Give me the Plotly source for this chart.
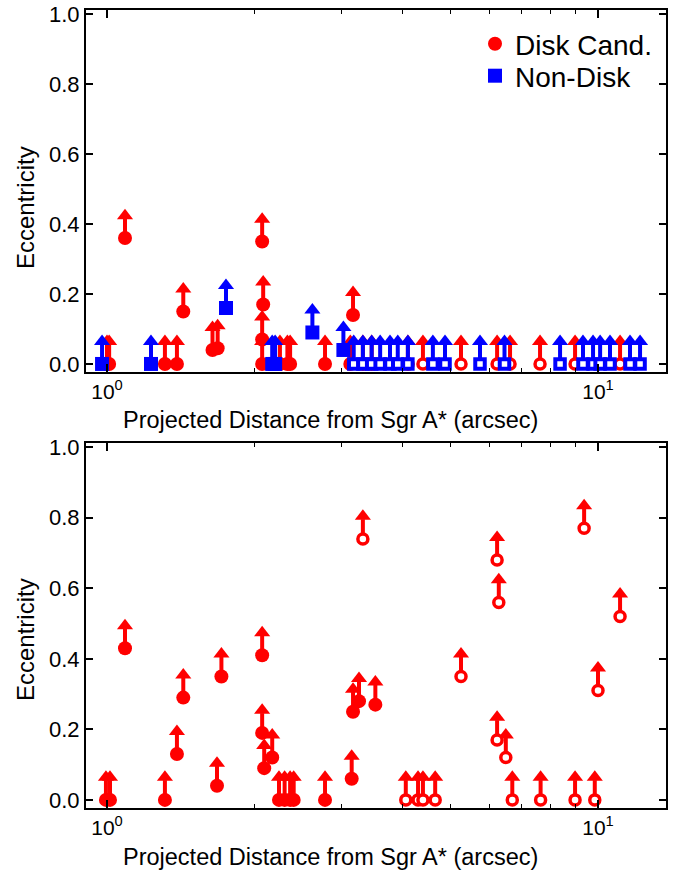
import plotly.graph_objects as go

# ---------------- data ----------------
# Top panel
top_disk_filled_x = [1.00, 1.01, 1.088, 1.312, 1.388, 1.43, 1.64, 1.68, 2.07, 2.07, 2.08, 2.07,
                     2.25, 2.33, 2.36, 2.78, 3.13, 3.17, 3.32, 3.46, 4.10]
top_disk_filled_e = [0, 0, 0.36, 0, 0, 0.15, 0.04, 0.045, 0.35, 0.07, 0.17, 0,
                     0, 0, 0, 0, 0, 0.14, 0, 0, 0]
top_disk_open_x = [4.40, 5.26, 6.23, 6.62, 7.62, 8.98, 11.09]
top_disk_open_e = [0, 0, 0, 0, 0, 0, 0]
top_nondisk_filled_x = [0.977, 1.229, 1.747, 2.17, 2.20, 2.62, 3.03]
top_nondisk_filled_e = [0, 0, 0.16, 0, 0, 0.09, 0.04]
top_nondisk_open_x = [3.18, 3.32, 3.46, 3.60, 3.77, 3.91, 4.10, 4.61, 4.88, 5.75, 6.45,
                      8.37, 9.32, 9.77, 10.1, 10.58, 11.62, 12.18]
top_nondisk_open_e = [0] * 18

# Bottom panel
bot_disk_filled_x = [0.995, 1.014, 1.088, 1.312, 1.388, 1.43, 1.675, 1.71, 2.07, 2.07, 2.09, 2.17,
                     2.24, 2.30, 2.36, 2.40, 2.78, 3.15, 3.17, 3.26, 3.52]
bot_disk_filled_e = [0, 0, 0.43, 0, 0.13, 0.29, 0.04, 0.35, 0.41, 0.19, 0.09, 0.12,
                     0, 0, 0, 0, 0, 0.06, 0.25, 0.28, 0.27]
bot_disk_open_x = [3.32, 4.06, 4.30, 4.40, 4.66, 5.26, 6.23, 6.28, 6.23, 6.49, 6.69, 7.64,
                   8.98, 9.37, 9.85, 10.0, 11.09]
bot_disk_open_e = [0.74, 0, 0, 0, 0, 0.35, 0.68, 0.56, 0.17, 0.12, 0, 0,
                   0, 0.77, 0, 0.31, 0.52]

y_ticks = [0.0, 0.2, 0.4, 0.6, 0.8, 1.0]
y_ticktext = ["0.0", "0.2", "0.4", "0.6", "0.8", "1.0"]
x_ticks = [1, 10]
x_ticktext = ["10<sup>0</sup>", "10<sup>1</sup>"]
x_minor = [2, 3, 4, 5, 6, 7, 8, 9]

x_title = "Projected Distance from Sgr A* (arcsec)"
y_title = "Eccentricity"

RED = "rgb(255,0,0)"
BLUE = "rgb(0,0,255)"
STEM = 0.056
HEAD = 0.064

fig = go.Figure()


def add_group(xs, es, color, symbol, filled, xa, ya, name=None, legend=None):
    sx, sy = [], []
    for x, e in zip(xs, es):
        sx += [x, x, None]
        sy += [e, e + STEM, None]
    fig.add_trace(go.Scatter(x=sx, y=sy, mode="lines", line=dict(color=color, width=4),
                             xaxis=xa, yaxis=ya, showlegend=False, hoverinfo="skip"))
    fig.add_trace(go.Scatter(x=xs, y=[e + HEAD for e in es], mode="markers",
                             marker=dict(symbol="triangle-up", size=14, color=color,
                                         line=dict(width=0)),
                             xaxis=xa, yaxis=ya, showlegend=False, hoverinfo="skip"))
    if filled:
        mk = dict(symbol=symbol, size=14, color=color, line=dict(width=0))
    else:
        if symbol == "circle":
            mk = dict(symbol=symbol, size=10, color="white", line=dict(color=color, width=3.5))
        else:
            mk = dict(symbol=symbol, size=9.5, color="white", line=dict(color=color, width=4))
    kw = dict(showlegend=legend is not None)
    if legend is not None:
        kw["legend"] = legend
    fig.add_trace(go.Scatter(x=xs, y=es, mode="markers", marker=mk, name=name,
                             xaxis=xa, yaxis=ya, **kw))


# top panel
add_group(top_disk_filled_x, top_disk_filled_e, RED, "circle", True, "x", "y",
          name="Disk Cand.", legend="legend")
add_group(top_disk_open_x, top_disk_open_e, RED, "circle", False, "x", "y")
add_group(top_nondisk_filled_x, top_nondisk_filled_e, BLUE, "square", True, "x", "y",
          name="Non-Disk", legend="legend2")
add_group(top_nondisk_open_x, top_nondisk_open_e, BLUE, "square", False, "x", "y")
# bottom panel
add_group(bot_disk_filled_x, bot_disk_filled_e, RED, "circle", True, "x2", "y2")
add_group(bot_disk_open_x, bot_disk_open_e, RED, "circle", False, "x2", "y2")

FONT = "Liberation Sans, Arial, Helvetica, sans-serif"
W, H = 678, 873

xdom = [86 / W, 666 / W]
top_dom = [1 - 372 / H, 1 - 10 / H]
bot_dom = [1 - 808 / H, 1 - 443 / H]

xaxis_common = dict(
    type="log", range=[-0.0428, 1.1385], tickmode="array", tickvals=x_ticks,
    ticktext=x_ticktext, ticks="inside", ticklen=8, tickwidth=1.5, tickcolor="black",
    showline=True, linewidth=2, linecolor="black", mirror="ticks",
    showgrid=False, zeroline=False, domain=xdom, automargin=False,
    tickfont=dict(size=21, color="black", family=FONT),
    minor=dict(tickmode="array", tickvals=x_minor, ticks="inside", ticklen=4,
               tickwidth=1, tickcolor="black", showgrid=False),
)
yaxis_common = dict(
    range=[-0.023, 1.012], tickmode="array", tickvals=y_ticks, ticktext=y_ticktext,
    ticks="inside", ticklen=7, tickwidth=1.5, tickcolor="black",
    showline=True, linewidth=2, linecolor="black", mirror="ticks",
    showgrid=False, zeroline=False, automargin=False,
    tickfont=dict(size=22, color="black", family=FONT),
)

legend_common = dict(xanchor="left", yanchor="middle",
                     font=dict(size=28, color="black", family=FONT),
                     bgcolor="rgba(0,0,0,0)", borderwidth=0, itemwidth=30,
                     tracegroupgap=0)

title_font_x = dict(size=23.5, color="black", family=FONT)
title_font_y = dict(size=24, color="black", family=FONT)
annotations = [
    dict(text=x_title, x=330 / W, y=1 - 420 / H, xref="paper", yref="paper",
         xanchor="center", yanchor="middle", showarrow=False, font=title_font_x),
    dict(text=x_title, x=330 / W, y=1 - 857 / H, xref="paper", yref="paper",
         xanchor="center", yanchor="middle", showarrow=False, font=title_font_x),
    dict(text=y_title, x=25 / W, y=1 - 208 / H, xref="paper", yref="paper",
         xanchor="center", yanchor="middle", showarrow=False, font=title_font_y,
         textangle=-90),
    dict(text=y_title, x=25 / W, y=1 - 640 / H, xref="paper", yref="paper",
         xanchor="center", yanchor="middle", showarrow=False, font=title_font_y,
         textangle=-90),
]

fig.update_layout(
    width=W, height=H,
    margin=dict(l=0, r=0, t=0, b=0),
    paper_bgcolor="white", plot_bgcolor="white",
    font=dict(family=FONT, color="black"),
    xaxis=dict(xaxis_common, anchor="y"),
    yaxis=dict(yaxis_common, domain=top_dom, anchor="x"),
    xaxis2=dict(xaxis_common, anchor="y2"),
    yaxis2=dict(yaxis_common, domain=bot_dom, anchor="x2"),
    legend=dict(legend_common, x=475 / W, y=1 - 44 / H),
    legend2=dict(legend_common, x=475 / W, y=1 - 76 / H),
    annotations=annotations,
    showlegend=True,
)

fig.write_html("out.html", config={"displayModeBar": False},
               post_script="document.body.style.margin='0px';")
